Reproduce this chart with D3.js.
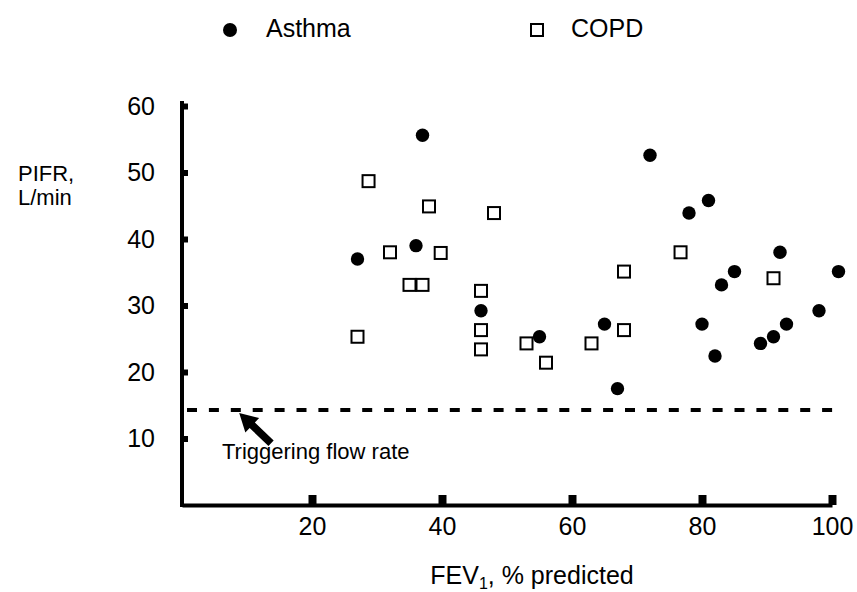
<!DOCTYPE html>
<html>
<head>
<meta charset="utf-8">
<script src="https://cdn.jsdelivr.net/npm/d3@7"></script>
<style>
  body { margin: 0; background: #fff; }
  text { font-family: "Liberation Sans", Arial, sans-serif; fill: #000; }
</style>
</head>
<body>
<div id="chart"></div>
<script>
// asthma patients: FEV1 (% predicted) and PIFR (L/min)
const asthmaFev = [37, 36, 27, 46, 55, 72, 81, 78, 92, 85, 101, 83, 98, 65, 80, 93, 91, 89, 82, 67];
const asthmaPifr = [55.6, 39.0, 37.0, 29.2, 25.3, 52.6, 45.8, 43.9, 38.0, 35.1, 35.1, 33.1, 29.2, 27.2, 27.2, 27.2, 25.3, 24.3, 22.4, 17.5];
// copd patients
const copdFev = [28.7, 38, 48, 32, 39.8, 35, 37, 46, 46, 27, 53, 46, 56, 76.7, 68, 91, 68, 63];
const copdPifr = [48.7, 44.9, 43.9, 38.0, 37.9, 33.1, 33.1, 32.2, 26.3, 25.3, 24.3, 23.4, 21.4, 38.0, 35.1, 34.1, 26.3, 24.3];
const xTicks = [20, 40, 60, 80, 100];
const yTicks = [10, 20, 30, 40, 50, 60];
const seriesNames = ["Asthma", "COPD"];
const triggerFlow = 14.3;

const width = 857,
  height = 592;

const svg = d3
  .select("#chart")
  .append("svg")
  .attr("width", width)
  .attr("height", height);

const x = d3.scaleLinear().domain([0, 100]).range([182, 832]);
const y = d3.scaleLinear().domain([0, 60]).range([505, 106]);

const asthma = asthmaFev.map((v, i) => ({ fev: v, pifr: asthmaPifr[i] }));
const copd = copdFev.map((v, i) => ({ fev: v, pifr: copdPifr[i] }));

// Y axis (ticks point into the plot)
const yAxis = svg
  .append("g")
  .attr("transform", `translate(${x(0)},0)`)
  .call(d3.axisLeft(y).tickValues(yTicks).tickSizeInner(-6).tickSizeOuter(0).tickPadding(27));
yAxis
  .select(".domain")
  .attr("d", `M0,${y(0)}V${y(60) - 3}`)
  .attr("stroke-width", 4)
  .attr("stroke-linecap", "square");
yAxis.selectAll(".tick line").attr("stroke-width", 6);
yAxis.selectAll(".tick text").style("font-size", "25px");

// X axis
const xAxis = svg
  .append("g")
  .attr("transform", `translate(0,${y(0)})`)
  .call(d3.axisBottom(x).tickValues(xTicks).tickSizeInner(-10).tickSizeOuter(0).tickPadding(12));
xAxis.select(".domain").attr("stroke-width", 4);
xAxis.selectAll(".tick line").attr("stroke-width", 8);
xAxis.selectAll(".tick text").style("font-size", "25px");

// triggering flow rate line
svg
  .append("line")
  .attr("x1", x(0) + 5)
  .attr("x2", x(100) + 1)
  .attr("y1", y(triggerFlow))
  .attr("y2", y(triggerFlow))
  .attr("stroke", "#000")
  .attr("stroke-width", 4)
  .attr("stroke-dasharray", "10,11.9");

// arrow pointing at the line
const tip = [x(8.8), y(triggerFlow) + 3];
const tail = [x(13.7), y(9.3)];
const len = Math.hypot(tail[0] - tip[0], tail[1] - tip[1]);
const d = [(tail[0] - tip[0]) / len, (tail[1] - tip[1]) / len];
const n = [-d[1], d[0]];
const pt = (p, a, b) => [p[0] + d[0] * a + n[0] * b, p[1] + d[1] * a + n[1] * b];
const headLen = 18;
svg
  .append("polygon")
  .attr(
    "points",
    [
      tip,
      pt(tip, headLen, 10),
      pt(tip, headLen, 3.8),
      pt(tail, 0, 3.8),
      pt(tail, 0, -3.8),
      pt(tip, headLen, -3.8),
      pt(tip, headLen, -10),
    ].join(" ")
  )
  .attr("fill", "#000");

svg
  .append("text")
  .attr("x", 222)
  .attr("y", 459)
  .style("font-size", "22px")
  .text("Triggering flow rate");

// COPD squares
const side = 12;
svg
  .append("g")
  .selectAll("rect")
  .data(copd)
  .join("rect")
  .attr("x", (p) => x(p.fev) - side / 2)
  .attr("y", (p) => y(p.pifr) - side / 2)
  .attr("width", side)
  .attr("height", side)
  .attr("fill", "#fff")
  .attr("stroke", "#000")
  .attr("stroke-width", 2);

// asthma dots
svg
  .append("g")
  .selectAll("circle")
  .data(asthma)
  .join("circle")
  .attr("cx", (p) => x(p.fev))
  .attr("cy", (p) => y(p.pifr))
  .attr("r", 6.7)
  .attr("fill", "#000");

// legend
svg.append("circle").attr("cx", 230).attr("cy", 30).attr("r", 7).attr("fill", "#000");
svg
  .append("text")
  .attr("x", 266)
  .attr("y", 37)
  .style("font-size", "25px")
  .text(seriesNames[0]);
svg
  .append("rect")
  .attr("x", 531)
  .attr("y", 24)
  .attr("width", side)
  .attr("height", side)
  .attr("fill", "#fff")
  .attr("stroke", "#000")
  .attr("stroke-width", 2);
svg
  .append("text")
  .attr("x", 571)
  .attr("y", 37)
  .style("font-size", "25px")
  .text(seriesNames[1]);

// axis titles
const yTitle = svg.append("text").style("font-size", "22px");
yTitle.append("tspan").attr("x", 18).attr("y", 181).text("PIFR,");
yTitle.append("tspan").attr("x", 18).attr("y", 205).text("L/min");

const xTitle = svg
  .append("text")
  .attr("x", 532)
  .attr("y", 584)
  .style("text-anchor", "middle")
  .style("font-size", "25px");
xTitle.append("tspan").text("FEV");
xTitle.append("tspan").attr("dy", 5).style("font-size", "16px").text("1");
xTitle.append("tspan").attr("dy", -5).text(", % predicted");
</script>
</body>
</html>
